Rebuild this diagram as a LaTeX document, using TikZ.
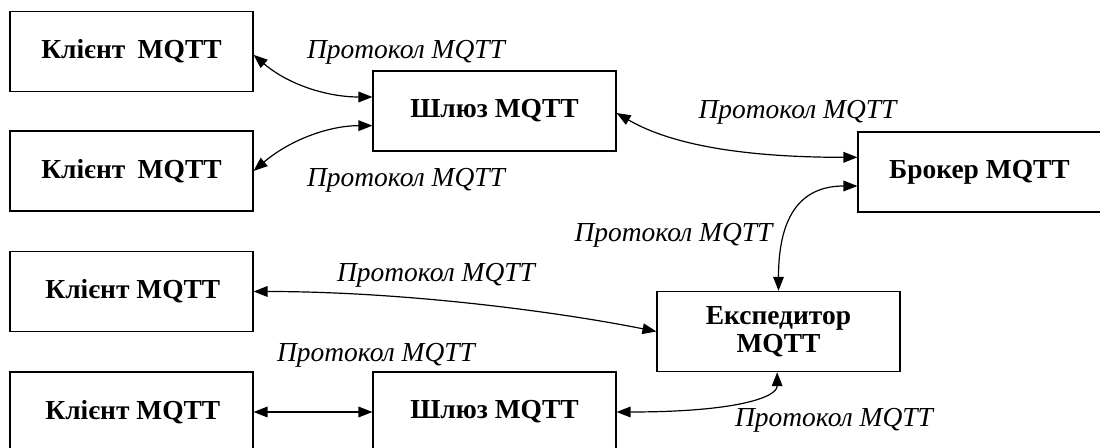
\documentclass[tikz,border=0pt]{standalone}
\usepackage{fontspec}
\setmainfont{Liberation Serif}
\usetikzlibrary{arrows.meta}
\begin{document}
\begin{tikzpicture}[x=0.75pt,y=-0.75pt,
  unit/.style={draw=black,line width=1.1pt,fill=white,minimum width=182pt,minimum height=60pt,
    inner sep=0pt,align=center,font=\fontsize{20.6}{21}\selectfont\bfseries},
  proto/.style={font=\fontsize{20.6}{23}\selectfont\itshape,inner sep=0pt},
  link/.style={line width=0.9pt,{Triangle[length=10.5pt,width=8pt]}-{Triangle[length=10.5pt,width=8pt]}}]
\useasboundingbox (0,0) rectangle (1100,448);
\clip (0,0) rectangle (1100,448);
% components
\node[unit] (c1) at (131.5,51.5) {Клієнт\hspace{0.2em} MQTT};
\node[unit] (c2) at (131.5,171) {Клієнт\hspace{0.2em} MQTT};
\node[unit] (gw1) at (494.5,111) {Шлюз MQTT};
\node[unit] (broker) at (979.5,172) {Брокер MQTT};
\node[unit] (c3) at (131.5,291.5) {\hspace{2pt}Клієнт MQTT};
\node[unit,text depth=3pt] (exp) at (778.5,331.5) {Експедитор\\MQTT};
\node[unit] (c4) at (131.5,412) {\hspace{2pt}Клієнт MQTT};
\node[unit] (gw2) at (494.5,412) {Шлюз MQTT};
% protocol labels
\node[proto] (l1) at (406,52) {Протокол MQTT};
\node[proto] (l2) at (406,180) {Протокол MQTT};
\node[proto] (l3) at (797.5,112) {Протокол MQTT};
\node[proto] (l4) at (673.5,235) {Протокол MQTT};
\node[proto] (l5) at (436,275) {Протокол MQTT};
\node[proto] (l6) at (376,355) {Протокол MQTT};
\node[proto] (l7) at (834,420) {Протокол MQTT};
% links
\draw[link] ([yshift=-2.5pt]c1.east) .. controls +(35,30) and +(-45,0) .. ([yshift=10.5pt]gw1.west);
\draw[link] (c2.east) .. controls +(35,-30) and +(-45,0) .. ([yshift=-11pt]gw1.west);
\draw[link] ([yshift=-1.5pt]gw1.east) .. controls +(60,35) and +(-100,0) .. ([yshift=11pt]broker.west);
\draw[link] ([yshift=-10.5pt]broker.west) .. controls +(-60,0) and +(0,-70) .. (exp.north);
\draw[link] (c3.east) .. controls +(150,0) and +(-100,-20) .. (exp.west);
\draw[link] (c4.east) -- (gw2.west);
\draw[link] (gw2.east) .. controls +(120,0) and +(0,25) .. ([xshift=-1pt]exp.south);
\end{tikzpicture}
\end{document}
